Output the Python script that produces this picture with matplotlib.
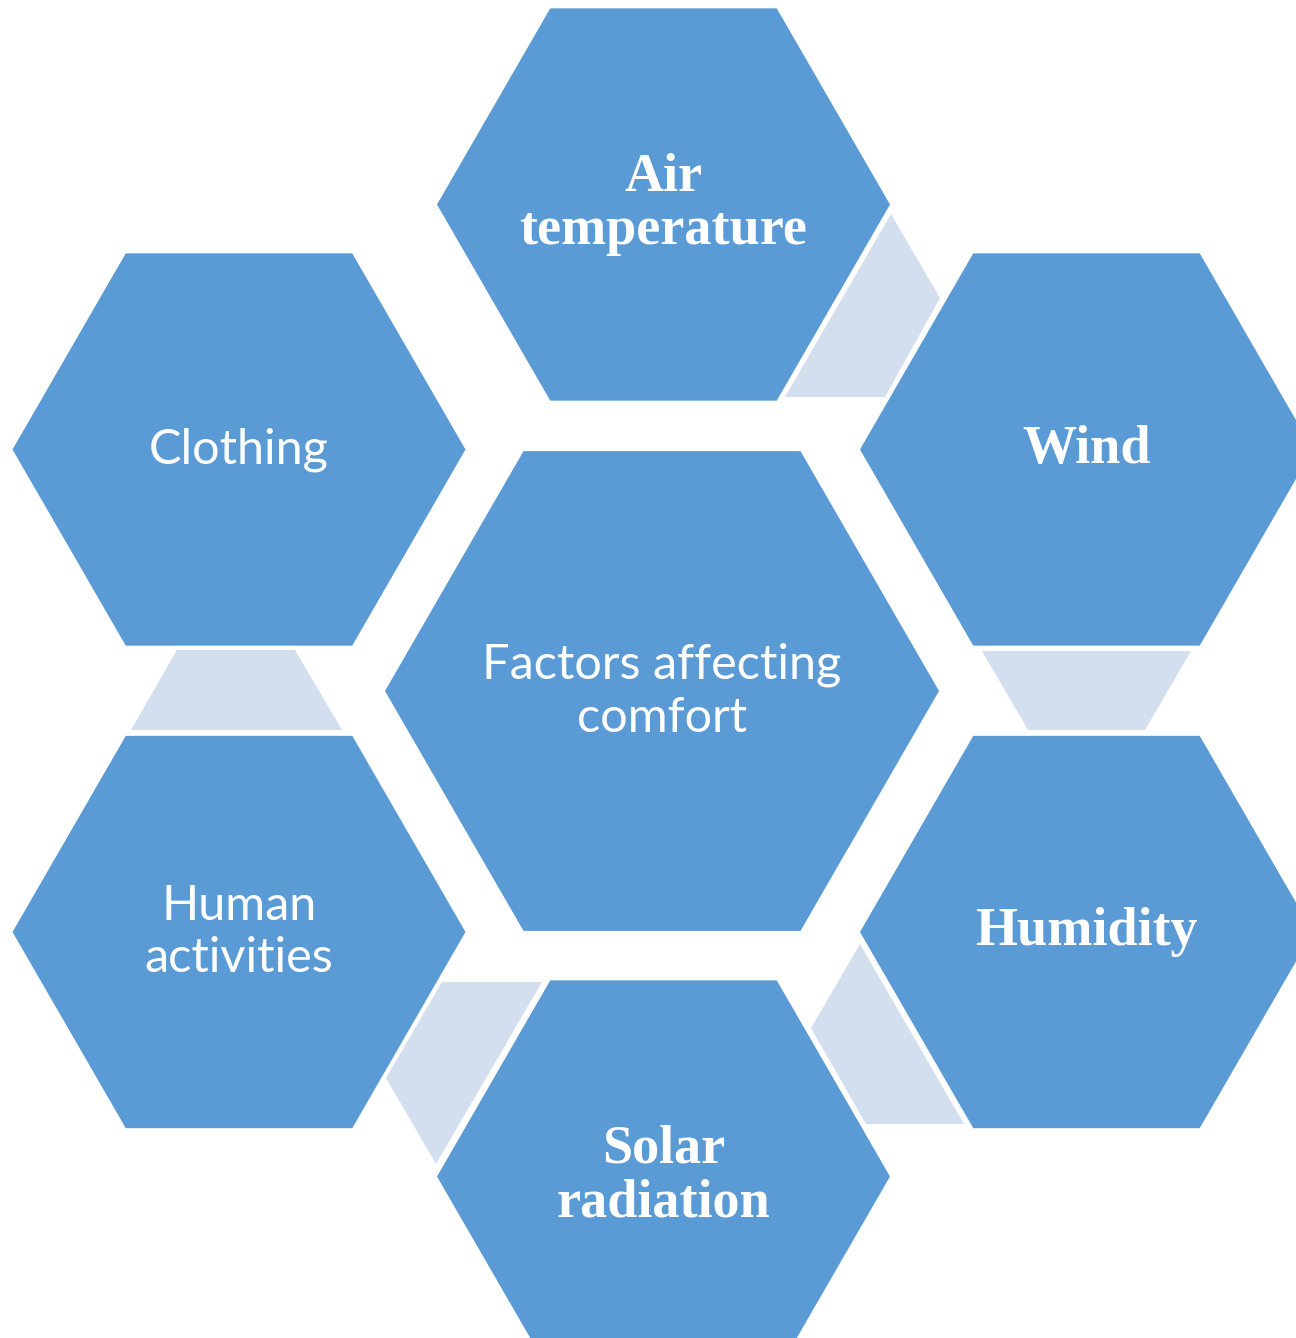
import numpy as np
import matplotlib.pyplot as plt
from matplotlib.patches import Polygon

plt.rcParams['font.size'] = 14

# labels of the outer hexagons (clockwise from top) and the centre one
labels = ["Air\ntemperature", "Wind", "Humidity", "Solar\nradiation",
          "Human\nactivities", "Clothing"]
serif_bold = [True, True, True, True, False, False]
center_label = "Factors affecting\ncomfort"

# layout in pixel coordinates (y downwards)
centers = [(663.5, 204.5), (1086.5, 449.5), (1086.5, 932), (663.5, 1176.5),
           (239, 932), (239, 449.5)]
R_small = 228.5
center_xy = (662, 691)
R_big = 279

connectors = [
    [(891, 214), (940, 298), (885, 397), (785, 397)],
    [(982, 651), (1191, 651), (1145, 730), (1028, 730)],
    [(860, 944), (811, 1028), (866, 1124), (964, 1124)],
    [(442, 982), (542, 982), (436, 1164), (386, 1078)],
    [(177, 650), (295, 650), (342, 730), (131, 730)],
]

hex_color = "#5B9BD5"
conn_color = "#D3DEEF"


def hexagon(cx, cy, r):
    ang = np.radians(np.arange(0, 360, 60))
    return np.column_stack([cx + r * np.cos(ang), cy + r * np.sin(ang)])


fig = plt.figure(figsize=(12.96, 13.38), dpi=100)
ax = fig.add_axes([0, 0, 1, 1])
ax.set_xlim(0, 1296)
ax.set_ylim(1338, 0)
ax.axis("off")

for pts in connectors:
    ax.add_patch(Polygon(pts, closed=True, facecolor=conn_color,
                         edgecolor="none", zorder=1))

for (cx, cy) in centers:
    ax.add_patch(Polygon(hexagon(cx, cy, R_small), closed=True,
                         facecolor=hex_color, edgecolor="white", lw=2.5, zorder=2))
ax.add_patch(Polygon(hexagon(*center_xy, R_big), closed=True,
                     facecolor=hex_color, edgecolor="white", lw=2.5, zorder=2))

for (cx, cy), lab, bold in zip(centers, labels, serif_bold):
    if bold:
        ax.text(cx, cy, lab, ha="center", va="center", color="white",
                family="Liberation Serif", weight="bold", fontsize=39,
                linespacing=1.08, zorder=3)
    else:
        ax.text(cx, cy, lab, ha="center", va="center", color="white",
                family="Lato", fontsize=35, linespacing=1.25, zorder=3)

ax.text(center_xy[0], center_xy[1], center_label, ha="center", va="center",
        color="white", family="Lato", fontsize=35, linespacing=1.25, zorder=3)

plt.savefig("out.png", dpi=100)
